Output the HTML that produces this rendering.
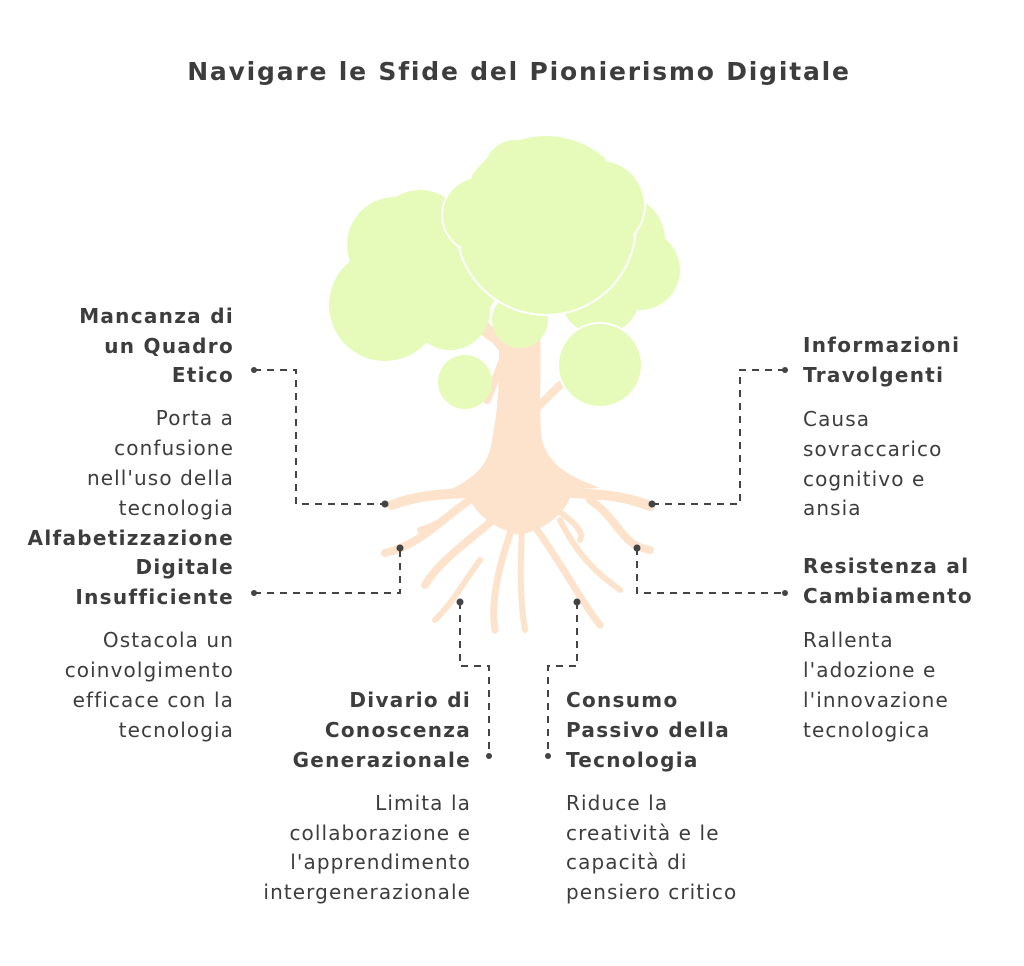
<!DOCTYPE html>
<html><head><meta charset="utf-8"><style>
body{margin:0;background:#fff}
svg{display:block}
text{font-family:"DejaVu Sans","Liberation Sans",sans-serif;fill:#3d3d3d}
.b{font-weight:bold;font-size:20px;letter-spacing:1.3px}
.n{font-size:20px;letter-spacing:1.1px}
</style></head><body>
<svg width="1024" height="966" viewBox="0 0 1024 966">
<text x="519" y="80" text-anchor="middle" style="font-weight:bold;font-size:25px;letter-spacing:1.8px">Navigare le Sfide del Pionierismo Digitale</text>
<g fill="none" stroke="#fde3cc" stroke-linecap="round">
<path d="M518 470 L512 400 L505 350 L480 320" stroke-width="10"/>
<path d="M498 342 L470 322" stroke-width="8"/>
<path d="M505 355 L487 400" stroke-width="8"/>
<path d="M530 415 L560 385" stroke-width="8"/>
<path d="M517 345 L518 300" stroke-width="8"/>
<path d="M520 490 C470 495 430 490 392 505" stroke-width="10"/>
<path d="M525 490 C570 495 610 490 650 506" stroke-width="10"/>
<path d="M470 500 C440 520 420 545 385 553" stroke-width="8"/>
<path d="M590 500 C620 520 620 545 650 550" stroke-width="8"/>
<path d="M505 510 C470 540 440 560 425 585" stroke-width="8"/>
<path d="M480 560 C465 580 455 600 435 620" stroke-width="6"/>
<path d="M515 520 C500 560 490 600 495 630" stroke-width="7"/>
<path d="M522 530 C520 570 520 600 525 630" stroke-width="6"/>
<path d="M530 520 C560 560 580 600 600 625" stroke-width="7"/>
<path d="M560 520 C580 560 600 575 620 590" stroke-width="6"/>
<path d="M455 512 C445 520 430 527 420 530" stroke-width="6"/>
<path d="M555 508 C570 520 585 530 580 540" stroke-width="6"/>
</g>
<path d="M492 440 C500 400 500 360 498 335 L540 330 C542 370 538 410 542 440 C550 470 580 480 600 488 L440 495 C470 480 488 470 492 440Z" fill="#fde3cc"/>
<path d="M470 500 C500 485 540 485 570 498 C560 520 540 530 520 535 C500 530 480 520 470 500Z" fill="#fde3cc"/>
<g fill="#e6fbb9">
<circle cx="395" cy="245" r="48"/>
<circle cx="385" cy="305" r="56"/>
<circle cx="440" cy="275" r="60"/>
<circle cx="420" cy="235" r="45"/>
<circle cx="450" cy="310" r="40"/>
<circle cx="620" cy="240" r="45"/>
<circle cx="640" cy="270" r="40"/>
<circle cx="600" cy="295" r="40"/>
<circle cx="520" cy="320" r="28"/>
<circle cx="600" cy="365" r="42"/>
<circle cx="465" cy="382" r="27"/>
</g>
<g fill="#e6fbb9" stroke="#fff" stroke-width="2">
<circle cx="600" cy="365" r="42"/>
<circle cx="546" cy="225" r="90"/>
<circle cx="480" cy="215" r="38"/>
<circle cx="600" cy="205" r="45"/>
</g>
<g fill="#e6fbb9"><circle cx="546" cy="225" r="88"/><circle cx="482" cy="216" r="36"/><circle cx="600" cy="205" r="43"/><circle cx="515" cy="170" r="30"/></g>
<g fill="none" stroke="#444" stroke-width="2" stroke-dasharray="7 6">
<path d="M254 370 H296 V504 H385"/>
<path d="M254 593 H400 V548"/>
<path d="M460 602 V666 H489 V756"/>
<path d="M577 602 V666 H548 V756"/>
<path d="M652 504 H740 V370 H785"/>
<path d="M637 548 V593 H785"/>
</g>
<g fill="#444">
<circle cx="254" cy="370" r="3"/><circle cx="385" cy="504" r="3.5"/>
<circle cx="254" cy="593" r="3"/><circle cx="400" cy="548" r="3.5"/>
<circle cx="460" cy="602" r="3.5"/><circle cx="489" cy="756" r="3"/>
<circle cx="577" cy="602" r="3.5"/><circle cx="548" cy="756" r="3"/>
<circle cx="652" cy="504" r="3.5"/><circle cx="785" cy="370" r="3"/>
<circle cx="637" cy="548" r="3.5"/><circle cx="785" cy="593" r="3"/>
</g>
<g text-anchor="end">
<text class="b" x="234" y="323">Mancanza di</text>
<text class="b" x="234" y="353">un Quadro</text>
<text class="b" x="234" y="382">Etico</text>
<text class="n" x="234" y="425">Porta a</text>
<text class="n" x="234" y="455">confusione</text>
<text class="n" x="234" y="485">nell'uso della</text>
<text class="n" x="234" y="515">tecnologia</text>
<text class="b" x="234" y="545">Alfabetizzazione</text>
<text class="b" x="234" y="574">Digitale</text>
<text class="b" x="234" y="604">Insufficiente</text>
<text class="n" x="234" y="647">Ostacola un</text>
<text class="n" x="234" y="677">coinvolgimento</text>
<text class="n" x="234" y="707">efficace con la</text>
<text class="n" x="234" y="737">tecnologia</text>
<text class="b" x="471" y="707">Divario di</text>
<text class="b" x="471" y="737">Conoscenza</text>
<text class="b" x="471" y="767">Generazionale</text>
<text class="n" x="471" y="810">Limita la</text>
<text class="n" x="471" y="840">collaborazione e</text>
<text class="n" x="471" y="869">l'apprendimento</text>
<text class="n" x="471" y="899">intergenerazionale</text>
</g>
<g>
<text class="b" x="566" y="707">Consumo</text>
<text class="b" x="566" y="737">Passivo della</text>
<text class="b" x="566" y="767">Tecnologia</text>
<text class="n" x="566" y="810">Riduce la</text>
<text class="n" x="566" y="840">creatività e le</text>
<text class="n" x="566" y="869">capacità di</text>
<text class="n" x="566" y="899">pensiero critico</text>
<text class="b" x="803" y="352">Informazioni</text>
<text class="b" x="803" y="382">Travolgenti</text>
<text class="n" x="803" y="426">Causa</text>
<text class="n" x="803" y="456">sovraccarico</text>
<text class="n" x="803" y="486">cognitivo e</text>
<text class="n" x="803" y="515">ansia</text>
<text class="b" x="803" y="573">Resistenza al</text>
<text class="b" x="803" y="603">Cambiamento</text>
<text class="n" x="803" y="647">Rallenta</text>
<text class="n" x="803" y="677">l'adozione e</text>
<text class="n" x="803" y="707">l'innovazione</text>
<text class="n" x="803" y="737">tecnologica</text>
</g>
</svg>
</body></html>
